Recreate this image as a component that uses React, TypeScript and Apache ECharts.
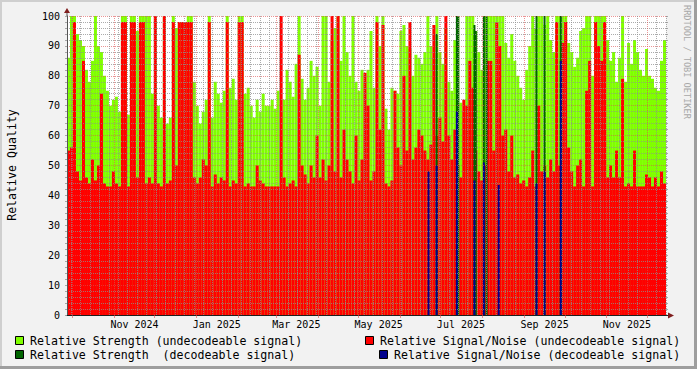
import React, { useEffect, useRef } from 'react';
import * as echarts from 'echarts';

// ---- time axis (days) ----
const START_YEAR = 2024;
const START_MONTH = 8; // September (0-based)
const START_DAY = 27;
const DAY_COUNT = 445;
const MONTH_NAMES = ['Jan', 'Feb', 'Mar', 'Apr', 'May', 'Jun', 'Jul', 'Aug', 'Sep', 'Oct', 'Nov', 'Dec'];
const LABEL_MONTHS = [10, 0, 2, 4, 6, 8]; // Nov, Jan, Mar, May, Jul, Sep
const LABEL_DAY_OF_MONTH = 16;

// ---- undecodeable signal, 200 consolidated bins across the time range ----
const STRENGTH_UNDEC = [
  86, 100, 100, 94, 92, 90, 82, 78, 85, 100,
  90, 88, 80, 75, 70, 72, 73, 68, 100, 100,
  67, 100, 100, 95, 100, 100, 100, 100, 74, 100,
  70, 66, 100, 64, 66, 100, 96, 98, 98, 98,
  100, 100, 78, 70, 64, 68, 72, 100, 66, 78,
  74, 71, 75, 100, 76, 79, 72, 100, 100, 74,
  76, 70, 66, 72, 68, 74, 70, 70, 72, 69,
  75, 68, 72, 82, 78, 73, 84, 100, 79, 72,
  76, 85, 80, 83, 70, 100, 100, 78, 92, 96,
  100, 85, 100, 88, 80, 100, 78, 75, 82, 78,
  82, 95, 76, 100, 90, 100, 69, 62, 76, 75,
  74, 95, 97, 90, 89, 80, 87, 86, 84, 88,
  100, 90, 86, 100, 88, 84, 96, 78, 75, 92,
  100, 71, 68, 100, 100, 100, 95, 88, 82, 100,
  100, 100, 100, 100, 100, 100, 91, 86, 94, 85,
  80, 76, 72, 82, 90, 100, 96, 100, 100, 97,
  100, 92, 88, 100, 100, 100, 100, 91, 88, 83,
  86, 95, 96, 100, 100, 80, 100, 100, 100, 100,
  92, 85, 88, 78, 86, 100, 78, 91, 84, 92,
  88, 82, 80, 89, 80, 79, 76, 75, 85, 92,
];
const SNR_UNDEC = [
  55, 56, 98, 48, 45, 85, 46, 44, 52, 45,
  50, 74, 44, 43, 43, 48, 44, 43, 98, 98,
  43, 98, 98, 46, 98, 98, 44, 46, 44, 100,
  44, 43, 100, 44, 45, 98, 50, 98, 98, 98,
  98, 98, 46, 44, 46, 52, 50, 98, 43, 47,
  44, 46, 45, 98, 43, 45, 44, 98, 98, 43,
  44, 43, 43, 50, 45, 44, 43, 43, 43, 43,
  43, 100, 46, 43, 44, 45, 43, 87, 50, 47,
  44, 50, 46, 60, 46, 52, 45, 50, 100, 48,
  100, 46, 62, 52, 48, 44, 60, 45, 52, 81,
  70, 45, 48, 98, 62, 97, 44, 43, 45, 75,
  56, 50, 80, 55, 98, 52, 56, 62, 60, 55,
  52, 57, 97, 60, 66, 58, 100, 60, 52, 62,
  50, 46, 72, 70, 85, 76, 55, 48, 45, 50,
  85, 85, 55, 98, 90, 60, 62, 48, 60, 46,
  47, 44, 45, 43, 46, 55, 43, 70, 48, 50,
  46, 52, 48, 98, 50, 91, 98, 56, 48, 43,
  50, 52, 43, 75, 85, 43, 98, 90, 85, 98,
  46, 50, 46, 55, 46, 79, 43, 44, 43, 55,
  43, 43, 43, 47, 46, 43, 46, 43, 48, 44,
];

// ---- decodeable signal, sparse days (index from start day) ----
const DEC_DAYS = [268, 274, 289, 290, 302, 303, 309, 311, 320, 348, 354, 366];
const DEC_STRENGTH = [0, 94, 100, 100, 97, 95, 100, 100, 0, 100, 100, 100];
const DEC_SNR = [48, 50, 68, 0, 45, 0, 51, 0, 43.5, 44, 48, 85];

const Y_TICKS = [0, 10, 20, 30, 40, 50, 60, 70, 80, 90, 100];

const COLORS = {
  strengthUndec: '#80FF00',
  snrUndec: '#FF0000',
  strengthDec: '#006400',
  snrDec: '#00008C',
};
const FONT = '"DejaVu Sans Mono", monospace';
const GRID_MINOR = 'rgba(143,143,143,0.75)';
const GRID_MAJOR = 'rgba(222,79,79,0.6)';

export default function App() {
  const ref = useRef<HTMLDivElement>(null);

  useEffect(() => {
    document.body.style.margin = '0';
    const chart = echarts.init(ref.current as HTMLDivElement, null, { renderer: 'svg' });

    const dayDates = Array.from({ length: DAY_COUNT }, (_, i) =>
      new Date(Date.UTC(START_YEAR, START_MONTH, START_DAY + i))
    );
    const dayCats = dayDates.map((d) => d.toISOString().slice(0, 10));
    const isMonthStart = (i: number) => dayDates[i].getUTCDate() === 1;
    const isLabelDay = (i: number) =>
      dayDates[i].getUTCDate() === LABEL_DAY_OF_MONTH &&
      LABEL_MONTHS.indexOf(dayDates[i].getUTCMonth()) >= 0;
    const isWeekStart = (i: number) => dayDates[i].getUTCDay() === 1;

    const binCats = STRENGTH_UNDEC.map((_, i) => String(i));

    const decStrengthData: any[] = dayCats.map(() => '-');
    const decSnrData: any[] = dayCats.map(() => '-');
    DEC_DAYS.forEach((d, j) => {
      decStrengthData[d] = DEC_STRENGTH[j];
      decSnrData[d] = DEC_SNR[j];
    });

    const legendItems = [
      { color: COLORS.strengthUndec, text: 'Relative Strength (undecodeable signal)', sx: 15, tx: 30, y: 341 },
      { color: COLORS.snrUndec, text: 'Relative Signal/Noise (undecodeable signal)', sx: 365, tx: 380, y: 341 },
      { color: COLORS.strengthDec, text: 'Relative Strength  (decodeable signal)', sx: 15, tx: 30, y: 355 },
      { color: COLORS.snrDec, text: 'Relative Signal/Noise (decodeable signal)', sx: 379, tx: 394, y: 355 },
    ];

    const graphic: any[] = [
      // frame shading
      { type: 'rect', shape: { x: 0, y: 0, width: 697, height: 2 }, style: { fill: '#CFCFCF' }, silent: true },
      { type: 'rect', shape: { x: 0, y: 0, width: 2, height: 369 }, style: { fill: '#CFCFCF' }, silent: true },
      { type: 'rect', shape: { x: 0, y: 366, width: 697, height: 3 }, style: { fill: '#9E9E9E' }, silent: true },
      { type: 'rect', shape: { x: 694, y: 0, width: 3, height: 369 }, style: { fill: '#9E9E9E' }, silent: true },
      // axis arrows
      { type: 'line', shape: { x1: 67, y1: 16, x2: 67, y2: 12 }, style: { stroke: '#555', lineWidth: 1 }, z: 10 },
      { type: 'polygon', shape: { points: [[64, 13], [70, 13], [67, 8]] }, style: { fill: '#801F1F' }, z: 10 },
      { type: 'line', shape: { x1: 666, y1: 315.5, x2: 669, y2: 315.5 }, style: { stroke: '#1F1F1F', lineWidth: 1 }, z: 10 },
      { type: 'polygon', shape: { points: [[668, 312.5], [668, 318.5], [674, 315.5]] }, style: { fill: '#801F1F' }, z: 10 },
      // y-axis title
      {
        type: 'text', x: 12, y: 165, rotation: Math.PI / 2,
        style: {
          text: 'Relative Quality', fontFamily: FONT, fontSize: 11.6, fill: '#000',
          align: 'center', verticalAlign: 'middle', textAlign: 'center', textVerticalAlign: 'middle',
        },
      },
      // watermark
      {
        type: 'text', x: 687, y: 5, rotation: -Math.PI / 2,
        style: {
          text: 'RRDTOOL / TOBI OETIKER', fontFamily: FONT, fontSize: 8.6, fill: '#A8A8A8',
          align: 'left', verticalAlign: 'middle', textAlign: 'left', textVerticalAlign: 'middle',
        },
      },
    ];
    legendItems.forEach((it) => {
      graphic.push({
        type: 'rect',
        shape: { x: it.sx + 0.5, y: it.y - 4.5, width: 8, height: 8 },
        style: { fill: it.color, stroke: '#000', lineWidth: 1 },
      });
      graphic.push({
        type: 'text', x: it.tx, y: it.y,
        style: {
          text: it.text, fontFamily: FONT, fontSize: 11.6, fill: '#000',
          align: 'left', verticalAlign: 'middle', textAlign: 'left', textVerticalAlign: 'middle',
        },
      });
    });

    const option: any = {
      animation: false,
      backgroundColor: '#F2F2F2',
      grid: {
        left: 67, right: 31, top: 16, bottom: 54,
        show: true, backgroundColor: '#FFFFFF', borderWidth: 0,
        containLabel: false, outerBoundsMode: 'none',
      },
      xAxis: [
        {
          type: 'category', data: binCats, show: false, position: 'bottom',
          boundaryGap: true, axisLine: { onZero: false },
        },
        {
          type: 'category', data: dayCats, position: 'bottom', boundaryGap: false, z: 3,
          axisLine: { show: true, onZero: false, lineStyle: { color: '#1F1F1F', width: 1 } },
          axisTick: {
            show: true, length: 3, interval: (i: number) => isMonthStart(i),
            lineStyle: { color: GRID_MAJOR },
          },
          axisLabel: {
            show: true, interval: (i: number) => isLabelDay(i), margin: 4,
            fontFamily: FONT, fontSize: 10, color: '#000',
            formatter: (v: string) => {
              const d = new Date(v + 'T00:00:00Z');
              return MONTH_NAMES[d.getUTCMonth()] + ' ' + d.getUTCFullYear();
            },
          },
          splitLine: {
            show: true, interval: (i: number) => isMonthStart(i),
            lineStyle: { color: GRID_MAJOR, width: 1, type: [1, 1] },
          },
        },
        {
          type: 'category', data: dayCats, position: 'bottom', boundaryGap: false, z: 3,
          axisLine: { show: false, onZero: false },
          axisTick: { show: false },
          axisLabel: { show: false },
          splitLine: {
            show: true, interval: (i: number) => isWeekStart(i) && !isMonthStart(i),
            lineStyle: { color: GRID_MINOR, width: 1, type: [1, 1] },
          },
        },
      ],
      yAxis: [
        {
          type: 'value', min: Y_TICKS[0], max: Y_TICKS[Y_TICKS.length - 1], interval: 10, z: 3,
          axisLine: { show: true, lineStyle: { color: '#555', width: 1 } },
          axisTick: { show: true, length: 2, lineStyle: { color: GRID_MINOR } },
          minorTick: { show: true, splitNumber: 5, length: 2, lineStyle: { color: GRID_MINOR } },
          axisLabel: { show: true, margin: 7, fontFamily: FONT, fontSize: 10, color: '#000' },
          splitLine: { show: true, lineStyle: { color: GRID_MAJOR, width: 1, type: [1, 1] } },
          minorSplitLine: { show: true, lineStyle: { color: GRID_MINOR, width: 1, type: [1, 1] } },
        },
        {
          type: 'value', position: 'right', min: Y_TICKS[0], max: Y_TICKS[Y_TICKS.length - 1], interval: 10, z: 3,
          axisLine: { show: false },
          axisTick: { show: true, length: 2, lineStyle: { color: GRID_MINOR } },
          minorTick: { show: true, splitNumber: 5, length: 2, lineStyle: { color: GRID_MINOR } },
          axisLabel: { show: false },
          splitLine: { show: false },
        },
      ],
      series: [
        {
          type: 'bar', name: 'Relative Strength (undecodeable signal)', xAxisIndex: 0, yAxisIndex: 0,
          data: STRENGTH_UNDEC, barGap: '-100%', barCategoryGap: '0%', silent: true,
          itemStyle: { color: COLORS.strengthUndec },
        },
        {
          type: 'bar', name: 'Relative Signal/Noise (undecodeable signal)', xAxisIndex: 0, yAxisIndex: 0,
          data: SNR_UNDEC, barGap: '-100%', barCategoryGap: '0%', silent: true,
          itemStyle: { color: COLORS.snrUndec },
        },
        {
          type: 'bar', name: 'Relative Strength  (decodeable signal)', xAxisIndex: 1, yAxisIndex: 0,
          data: decStrengthData, barWidth: 2, barGap: '-100%', silent: true,
          itemStyle: { color: COLORS.strengthDec },
        },
        {
          type: 'bar', name: 'Relative Signal/Noise (decodeable signal)', xAxisIndex: 1, yAxisIndex: 0,
          data: decSnrData, barWidth: 2, barGap: '-100%', silent: true,
          itemStyle: { color: COLORS.snrDec },
        },
      ],
      graphic,
    };

    chart.setOption(option);
    return () => chart.dispose();
  }, []);

  return <div ref={ref} style={{ width: 697, height: 369 }} />;
}
